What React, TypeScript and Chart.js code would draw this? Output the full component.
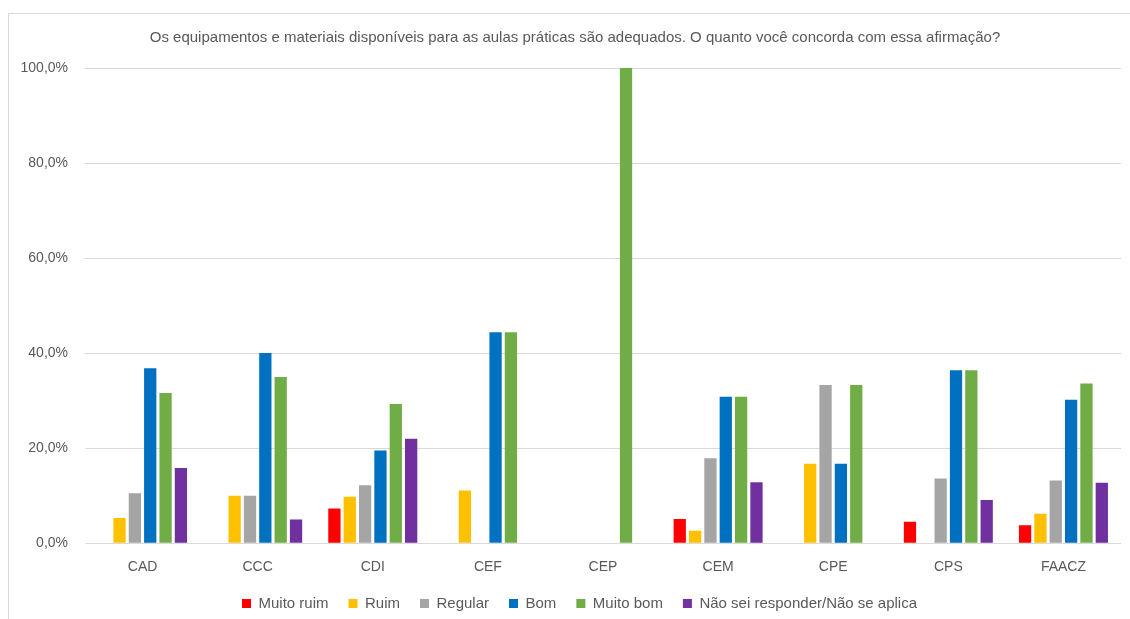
import React, { useEffect, useRef } from "react";
import { Chart, registerables } from "chart.js";

Chart.register(...registerables);

const categories = ["CAD", "CCC", "CDI", "CEF", "CEP", "CEM", "CPE", "CPS", "FAACZ"];
const muitoRuim = [0, 0, 7.3, 0, 0, 5.1, 0, 4.5, 3.8];
const ruim = [5.3, 10.0, 9.8, 11.1, 0, 2.6, 16.7, 0, 6.2];
const regular = [10.5, 10.0, 12.2, 0, 0, 17.9, 33.3, 13.6, 13.2];
const bom = [36.8, 40.0, 19.5, 44.4, 0, 30.8, 16.7, 36.4, 30.2];
const muitoBom = [31.6, 35.0, 29.3, 44.4, 100, 30.8, 33.3, 36.4, 33.6];
const naoSei = [15.8, 5.0, 22.0, 0, 0, 12.8, 0, 9.1, 12.7];

const seriesNames = ["Muito ruim", "Ruim", "Regular", "Bom", "Muito bom", "Não sei responder/Não se aplica"];
const seriesColors = ["#FF0000", "#FFC000", "#A5A5A5", "#0070C0", "#70AD47", "#7030A0"];
const titleText = "Os equipamentos e materiais disponíveis para as aulas práticas são adequados. O quanto você concorda com essa afirmação?";

const FONT = "'Liberation Sans', Arial, sans-serif";
const TEXT = "#595959";

const titlePlugin = {
  id: "customTitle",
  afterLayout(chart: any) {
    if (chart.legend) {
      chart.legend.left += 38;
      chart.legend.top += 2;
      chart.legend.bottom += 2;
    }
  },
  afterDraw(chart: any) {
    const ctx = chart.ctx;
    ctx.save();
    ctx.font = `15px ${FONT}`;
    ctx.fillStyle = TEXT;
    ctx.textAlign = "center";
    ctx.textBaseline = "middle";
    ctx.fillText(titleText, 575, 38);
    ctx.restore();
  },
};

export default function App() {
  const ref = useRef<HTMLCanvasElement | null>(null);
  useEffect(() => {
    if (!ref.current) return;
    const values = [muitoRuim, ruim, regular, bom, muitoBom, naoSei];
    const chart = new Chart(ref.current, {
      type: "bar",
      data: {
        labels: categories,
        datasets: values.map((v, i) => ({
          label: seriesNames[i],
          data: v,
          backgroundColor: seriesColors[i],
          borderWidth: 0,
          categoryPercentage: 0.8,
          barPercentage: 0.8,
        })),
      },
      options: {
        animation: false,
        responsive: true,
        maintainAspectRatio: false,
        layout: { padding: { left: 0, right: 9, top: 68, bottom: 0 } },
        plugins: {
          title: { display: false },
          legend: {
            position: "bottom",
            labels: {
              color: TEXT,
              font: { family: FONT, size: 15 },
              boxWidth: 9,
              boxHeight: 9,
              padding: 20,
            },
          },
          tooltip: { enabled: false },
        },
        scales: {
          x: {
            afterFit: (s: any) => { s.height = s.height - 18; },
            grid: { display: false, drawTicks: false },
            border: { display: false },
            ticks: { color: TEXT, font: { family: FONT, size: 14 }, padding: 16 },
          },
          y: {
            min: 0,
            max: 100,
            afterFit: (s: any) => { s.width = 85; },
            grid: { color: "#D9D9D9", drawTicks: false },
            border: { display: false },
            ticks: {
              stepSize: 20,
              color: TEXT,
              font: { family: FONT, size: 14 },
              padding: 17,
              callback: (v: any) => Number(v).toFixed(1).replace(".", ",") + "%",
            },
          },
        },
      },
      plugins: [titlePlugin],
    });
    return () => chart.destroy();
  }, []);
  return (
    <div style={{ position: "fixed", left: 0, top: 0, width: 1130, height: 619, background: "#fff" }}>
      <div style={{ position: "absolute", left: 8, top: 13, width: 1200, height: 700, borderLeft: "1px solid #D9D9D9", borderTop: "1px solid #D9D9D9" }} />
      <canvas ref={ref} style={{ position: "absolute", left: 0, top: 0 }} />
    </div>
  );
}
